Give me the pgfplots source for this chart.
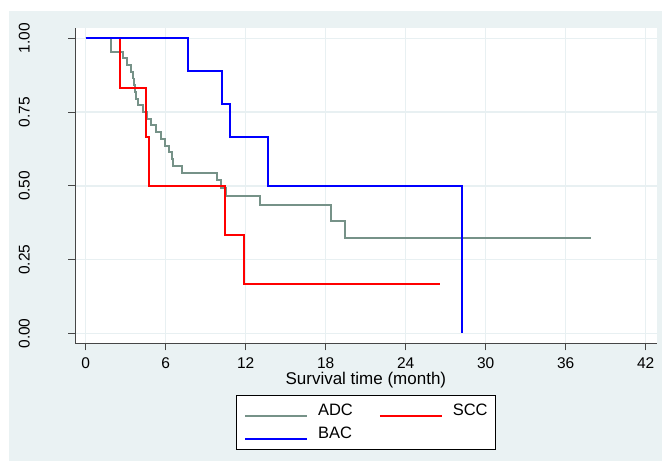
\documentclass[border=0pt]{standalone}
\usepackage{pgfplots}
\pgfplotsset{compat=1.18}
\usepackage{fontspec}
\setmainfont{Liberation Sans}

\definecolor{bgcol}{RGB}{234,242,243}
\definecolor{gridcol}{RGB}{232,240,242}
\definecolor{axiscol}{RGB}{70,70,70}
\definecolor{adccol}{RGB}{118,146,136}
\definecolor{scccol}{RGB}{255,0,0}
\definecolor{baccol}{RGB}{0,0,255}

\begin{document}
\begin{tikzpicture}
\useasboundingbox (0bp,0bp) rectangle (662bp,461bp);
\fill[white] (0bp,0bp) rectangle (662bp,461bp);
\fill[bgcol] (9bp,0bp) rectangle (662bp,450bp);
\begin{axis}[
  at={(75bp,117bp)}, anchor=south west,
  scale only axis, width=581.7bp, height=316bp,
  xmin=-0.8025, xmax=42.83, ymin=-0.0356, ymax=1.035,
  axis background/.style={fill=white},
  axis x line*=bottom, axis y line*=left,
  axis line style={-, color=axiscol, line width=1bp},
  xtick={0,6,...,42}, ytick={0,0.25,0.5,0.75,1},
  yticklabels={0.00,0.25,0.50,0.75,1.00},
  tick align=outside, major tick length=6.5bp,
  tick style={color=axiscol, line width=1bp},
  grid=major, major grid style={color=gridcol, line width=1.5bp},
  /pgf/number format/assume math mode=true,
  xticklabel style={font=\fontsize{15.5bp}{18bp}\selectfont, inner sep=0pt, anchor=north, yshift=-6.8bp},
  yticklabel style={font=\fontsize{15.5bp}{18bp}\selectfont, xshift=-38.5bp, rotate=90, anchor=south, inner sep=0pt},
  xlabel={Survival time (month)},
  xlabel style={font=\fontsize{17bp}{20bp}\selectfont, at={(axis description cs:0.5,0)}, anchor=base, yshift=-40bp, inner sep=0pt},
  legend columns=2,
  legend image code/.code={\draw[#1] (0bp,0bp) -- (62bp,0bp);},
  legend style={
    at={(axis description cs:0.5,0)}, anchor=north, yshift=-51bp,
    draw=black, line width=0.8bp, fill=white,
    font=\fontsize{16.5bp}{19bp}\selectfont,
    inner xsep=8bp, inner ysep=9bp,
    nodes={inner sep=0pt, anchor=base west},
    row sep=9.8bp,
    /tikz/every odd column/.append style={column sep=10bp},
    /tikz/every even column/.append style={column sep=26bp},
  },
  every axis plot/.append style={line width=1.9bp, const plot},
]
% ADC
\addplot[adccol] coordinates {
  (0,1) (1.90,0.955) (2.78,0.932) (3.08,0.909) (3.40,0.886)
  (3.57,0.864) (3.65,0.841) (3.72,0.818) (3.77,0.795) (3.95,0.773)
  (4.32,0.750) (4.62,0.727) (4.90,0.705) (5.25,0.682) (5.63,0.659)
  (5.95,0.636) (6.25,0.614) (6.45,0.591) (6.57,0.568) (7.20,0.545)
  (9.83,0.520) (10.13,0.494) (10.50,0.466) (13.10,0.435)
  (18.40,0.381) (19.47,0.325) (37.90,0.325)
};
\addlegendentry{ADC}
% SCC
\addplot[scccol] coordinates {
  (0,1) (2.55,0.833) (4.52,0.667) (4.72,0.5) (10.45,0.333)
  (11.90,0.167) (26.55,0.167)
};
\addlegendentry{SCC}
% BAC
\addplot[baccol] coordinates {
  (0,1) (7.65,0.889) (10.20,0.778) (10.80,0.667) (13.70,0.5) (28.25,0)
};
\addlegendentry{BAC}
\end{axis}
\end{tikzpicture}
\end{document}
